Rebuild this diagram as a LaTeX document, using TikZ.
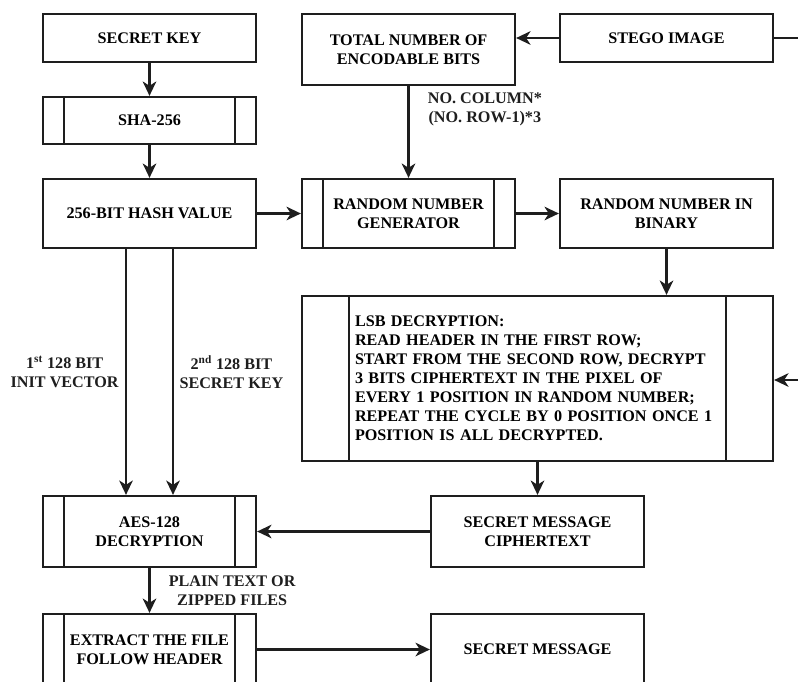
\documentclass[tikz,border=0pt]{standalone}
\usepackage{fontspec}
\setmainfont{Liberation Serif}
\usetikzlibrary{arrows.meta,positioning}
\definecolor{cLine}{RGB}{30, 30, 30}
\tikzset{
  B/.style    = {draw=cLine, line width=1.6pt, text centered, align=center,
                 font=\fontsize{11.5}{13.5}\selectfont\bfseries,
                 minimum width=5.325cm, inner sep=2pt},
  procB/.style= {B, path picture={
                   \draw[cLine, line width=1.6pt]
                     ([xshift=#1]path picture bounding box.north west) --
                     ([xshift=#1]path picture bounding box.south west)
                     ([xshift=-#1]path picture bounding box.north east) --
                     ([xshift=-#1]path picture bounding box.south east);}},
  procB/.default = 0.525cm,
  lbl/.style  = {font=\fontsize{11.5}{13.5}\selectfont\bfseries, align=center,
                 inner sep=1pt},
  A/.style    = {-{Stealth[length=3.6mm, width=3.4mm, inset=1.1mm]}, line width=1.6pt, cLine},
  L/.style    = {line width=1.6pt, cLine},
}
\begin{document}
\begin{tikzpicture}

\useasboundingbox (0,0) rectangle (19.95,-17.025);
\clip (0,0) rectangle (19.95,-17.025);

%% --- left column ---
\node[B, minimum height=1.2cm]    (key)  at (3.7375,-0.95)   {SECRET KEY};
\node[procB, minimum height=1.175cm] (sha) at (3.7375,-3.0125) {SHA-256};
\node[B, minimum height=1.725cm]  (hash) at (3.7375,-5.3375) {256-BIT HASH VALUE};
\node[procB, minimum height=1.775cm] (aes) at (3.7375,-13.2875) {AES-128\\DECRYPTION};
\node[procB, minimum height=1.775cm] (ext) at (3.7375,-16.2375) {EXTRACT THE FILE\\FOLLOW HEADER};

%% --- middle column ---
\node[B, minimum height=1.775cm]  (tot)  at (10.2125,-1.2375) {TOTAL NUMBER OF\\ENCODABLE BITS};
\node[procB, minimum height=1.725cm] (rng) at (10.2125,-5.3375) {RANDOM NUMBER\\GENERATOR};

%% --- right column ---
\node[B, minimum height=1.2cm]    (stego) at (16.6625,-0.95)  {STEGO IMAGE};
\node[B, minimum height=1.725cm]  (bin)   at (16.6625,-5.3375) {RANDOM NUMBER IN\\BINARY};

%% --- LSB decryption ---
\node[procB=1.175cm, minimum width=11.775cm, minimum height=4.125cm,
      text width=9.125cm, align=left] (lsb) at (13.4375,-9.4625)
  {LSB DECRYPTION:\\
   READ HEADER IN THE FIRST ROW;\\
   START FROM THE SECOND ROW, DECRYPT\\
   3 BITS CIPHERTEXT IN THE PIXEL OF\\
   EVERY 1 POSITION IN RANDOM NUMBER;\\
   REPEAT THE CYCLE BY 0 POSITION ONCE 1\\
   POSITION IS ALL DECRYPTED.};

\node[B, minimum height=1.775cm]  (ciph) at (13.4375,-13.2875) {SECRET MESSAGE\\CIPHERTEXT};
\node[B, minimum height=1.775cm]  (msg)  at (13.4375,-16.2375) {SECRET MESSAGE};

%% --- loose ends at the right border ---
\coordinate (stegoOut) at (19.95,-0.95);
\coordinate (lsbIn)    at (19.95,-9.5);

%% --- connectors ---
\draw[A] (key) -- (sha);
\draw[A] (sha) -- (hash);
\draw[A] (hash) -- (rng);
\draw[A] (rng) -- (bin);
\draw[A] (stego.west) -- (stego.west -| tot.east);
\draw[L] (stego.east) -- (stegoOut);
\draw[A] (tot.south) -- (rng.north)
  node[lbl, pos=0.25, right=4.2mm] {NO. COLUMN*\\(NO. ROW-1)*3};
\draw[A] (bin.south) -- (bin.south |- lsb.north);
\draw[A] (lsbIn) -- (lsbIn -| lsb.east);
\draw[A] (lsb.south) -- (ciph.north);
\draw[A] (ciph) -- (aes);

\draw[A] ([xshift=-0.5875cm]hash.south) -- ([xshift=-0.5875cm]aes.north)
  node[lbl, midway, left=1.2mm] {1\textsuperscript{st} 128 BIT\\INIT VECTOR};
\draw[A] ([xshift=0.5875cm]hash.south) -- ([xshift=0.5875cm]aes.north)
  node[lbl, midway, right=1mm] {2\textsuperscript{nd} 128 BIT\\SECRET KEY};

\draw[A] (aes) -- (ext)
  node[lbl, midway, right=4.2mm] {PLAIN TEXT OR\\ZIPPED FILES};
\draw[A] (ext) -- (msg);

\end{tikzpicture}
\end{document}
